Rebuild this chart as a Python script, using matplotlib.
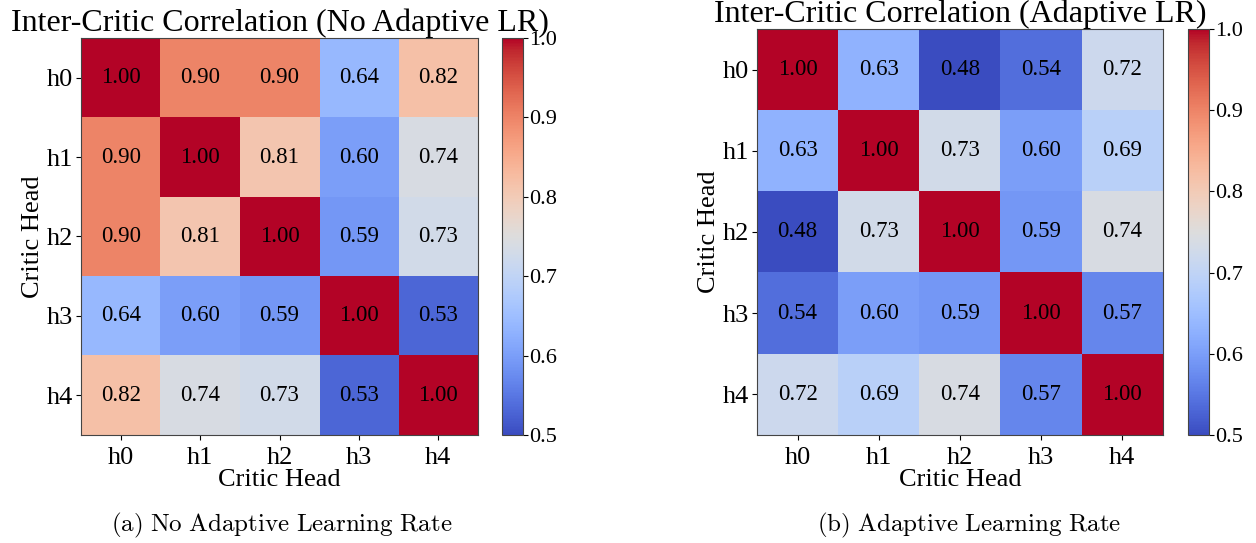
import numpy as np
import matplotlib
matplotlib.use("Agg")
import matplotlib.pyplot as plt

plt.rcParams['font.family'] = ['Liberation Serif', 'DejaVu Serif']
plt.rcParams['mathtext.fontset'] = 'cm'

heads = ["h0", "h1", "h2", "h3", "h4"]

corr_no_adaptive = np.array([
    [1.00, 0.90, 0.90, 0.64, 0.82],
    [0.90, 1.00, 0.81, 0.60, 0.74],
    [0.90, 0.81, 1.00, 0.59, 0.73],
    [0.64, 0.60, 0.59, 1.00, 0.53],
    [0.82, 0.74, 0.73, 0.53, 1.00],
])

corr_adaptive = np.array([
    [1.00, 0.63, 0.48, 0.54, 0.72],
    [0.63, 1.00, 0.73, 0.60, 0.69],
    [0.48, 0.73, 1.00, 0.59, 0.74],
    [0.54, 0.60, 0.59, 1.00, 0.57],
    [0.72, 0.69, 0.74, 0.57, 1.00],
])

cbar_ticks = [0.5, 0.6, 0.7, 0.8, 0.9, 1.0]

titles = ["Inter-Critic Correlation (No Adaptive LR)", "Inter-Critic Correlation (Adaptive LR)"]
captions = [r"$\mathrm{(a)\ No\ Adaptive\ Learning\ Rate}$", r"$\mathrm{(b)\ Adaptive\ Learning\ Rate}$"]

W, H = 1256, 543
fig = plt.figure(figsize=(W / 100, H / 100), dpi=100)


def px_axes(x0, y0, x1, y1):
    return fig.add_axes([x0 / W, 1 - y1 / H, (x1 - x0) / W, (y1 - y0) / H])


panels = [
    (corr_no_adaptive, (81, 38, 478, 435), (502, 38, 523, 435)),
    (corr_adaptive, (757, 29, 1163, 435), (1188, 29, 1209, 435)),
]

for i, (data, hm_box, cb_box) in enumerate(panels):
    ax = px_axes(*hm_box)
    cax = px_axes(*cb_box)
    im = ax.imshow(data, cmap="coolwarm", vmin=0.5, vmax=1.0, aspect="auto")
    for r in range(data.shape[0]):
        for c in range(data.shape[1]):
            ax.text(c, r, f"{data[r, c]:.2f}", ha="center", va="center",
                    fontsize=16.5, color="black")
    ax.set_xticks(range(len(heads)))
    ax.set_xticklabels(heads, fontsize=19)
    ax.set_yticks(range(len(heads)))
    ax.set_yticklabels(heads, fontsize=19)
    ax.tick_params(axis="x", pad=5)
    ax.tick_params(axis="y", pad=2)
    ax.set_xlabel("Critic Head", fontsize=19, labelpad=0)
    ax.set_ylabel("Critic Head", fontsize=19, labelpad=2)
    ax.set_title(titles[i], fontsize=23, pad=4)
    for s in ax.spines.values():
        s.set_color("#444444")
    cb = fig.colorbar(im, cax=cax)
    cb.set_ticks(cbar_ticks)
    cb.ax.tick_params(labelsize=16, pad=1)
    cb.outline.set_edgecolor("#444444")
    cx = (hm_box[0] + hm_box[2]) / 2 + (2 if i == 0 else 9)
    fig.text(cx / W, 1 - 525 / H, captions[i], ha="center", va="center", fontsize=18)

fig.savefig("out.png", dpi=100)
